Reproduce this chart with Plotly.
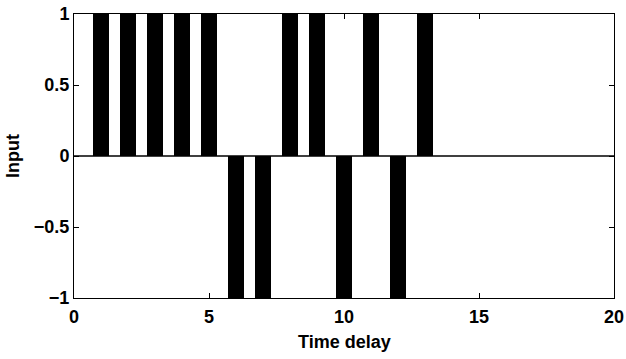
import plotly.graph_objects as go

delays = list(range(1, 19))
inputs = [1, 1, 1, 1, 1, -1, -1, 1, 1, -1, 1, -1, 1, 0, 0, 0, 0, 0]

x_ticks = [0, 5, 10, 15, 20]
y_ticks = [-1, -0.5, 0, 0.5, 1]
y_labels = ["\u22121", "\u22120.5", "0", "0.5", "1"]

fig = go.Figure()
fig.add_trace(go.Bar(x=delays, y=inputs, width=0.62,
                     marker=dict(color="black", line=dict(width=0))))

font = dict(family="Liberation Sans", size=18, color="black")
axis_common = dict(showline=True, linecolor="black", linewidth=1, mirror="ticks",
                   ticks="inside", ticklen=5, tickcolor="black", showgrid=False,
                   zeroline=False, tickfont=font, automargin=False)

fig.update_layout(
    width=626, height=359,
    margin=dict(l=74, r=12, t=14, b=61),
    plot_bgcolor="white", paper_bgcolor="white",
    showlegend=False, bargap=0,
    font=font,
    xaxis=dict(axis_common, range=[0, 20], tickvals=x_ticks,
               ticktext=[f"<b>{v}</b>" for v in x_ticks], ticklabelstandoff=2),
    yaxis=dict(axis_common, range=[-1, 1], tickvals=y_ticks,
               ticktext=[f"<b>{t}</b>" for t in y_labels]),
    annotations=[
        dict(text="<b>Time delay</b>", xref="paper", yref="paper", x=0.5, y=0,
             xanchor="center", yanchor="middle", yshift=-44, showarrow=False, font=font),
        dict(text="<b>Input</b>", xref="paper", yref="paper", x=0, y=0.5,
             xanchor="center", yanchor="middle", xshift=-61, textangle=-90,
             showarrow=False, font=font),
    ],
)
fig.add_hline(y=0, line=dict(color="black", width=1.5))

fig.write_html("out.html")
